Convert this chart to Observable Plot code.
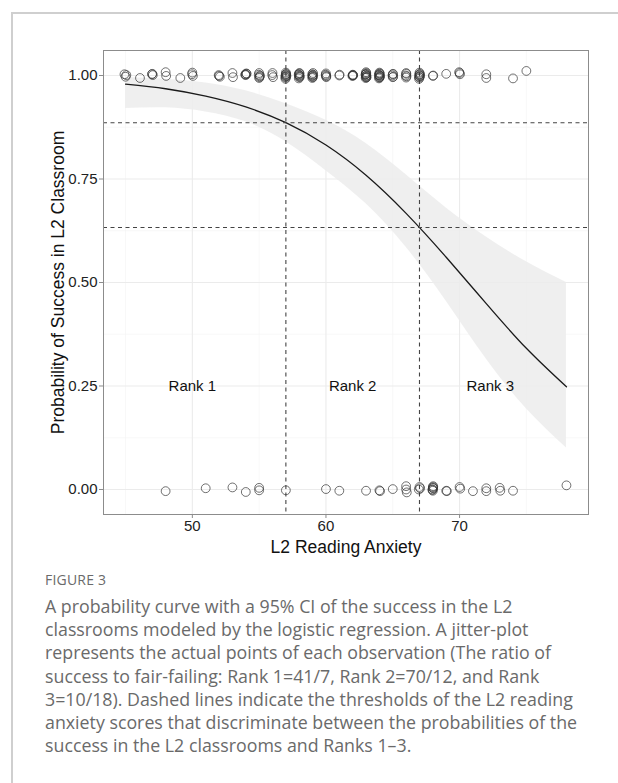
<!DOCTYPE html>
<html><head><meta charset="utf-8">
<script src="https://cdn.jsdelivr.net/npm/d3@7"></script>
<script src="https://cdn.jsdelivr.net/npm/@observablehq/plot@0.6"></script>
<style>
body{margin:0;background:#fff;}
#wrap{position:relative;width:618px;height:783px;overflow:hidden;background:#fff;}
#card{position:absolute;left:11px;top:12px;width:700px;height:900px;border-left:2px solid #cfcfcf;border-top:2px solid #cfcfcf;}
#chart{position:absolute;left:0;top:0;}
#cap{position:absolute;left:45px;top:570px;font-family:"Open Sans",sans-serif;color:#6a6a6a;white-space:nowrap;}
#cap .fig{font-size:14px;line-height:20px;margin-bottom:5px;letter-spacing:0.2px;}
#cap .txt{font-size:17.8px;line-height:23.2px;}
</style></head>
<body><div id="wrap"><div id="card"></div><div id="chart"></div>
<div id="cap"><div class="fig">FIGURE 3</div><div class="txt">A probability curve with a 95% CI of the success in the L2<br>classrooms modeled by the logistic regression. A jitter-plot<br>represents the actual points of each observation (The ratio of<br>success to fair-failing: Rank 1=41/7, Rank 2=70/12, and Rank<br>3=10/18). Dashed lines indicate the thresholds of the L2 reading<br>anxiety scores that discriminate between the probabilities of the<br>success in the L2 classrooms and Ranks 1–3.</div></div>
</div>
<script>
// observed successes (y≈1, jittered) and failures (y≈0, jittered): [anxiety, outcome]
const successPts = [
[44.92,1.003],[45.0,0.997],[45.06,1.001],
[46.08,0.994],
[46.98,1.003],[47.04,1.001],[47.0,1.004],
[48.0,1.008],[48.04,0.999],
[49.1,0.994],
[50.0,1.007],[50.04,0.999],[49.98,1.003],
[52.0,0.999],[52.06,0.997],[51.97,1.001],
[53.0,1.006],[53.04,0.996],
[53.98,1.003],[54.04,1.005],[54.0,1.001],[54.06,1.004],[53.96,1.002],
[55.0,0.994],[55.04,0.998],[54.97,1.002],[55.0,1.006],[55.06,1.0],[55.02,0.996],
[56.0,1.006],[56.04,0.996],[55.98,1.001],
[56.97,0.992],[57.0,0.995],[57.03,0.998],[56.98,1.001],[57.02,1.004],[57.0,1.007],[57.04,1.0],[56.96,0.997],[57.01,1.003],
[57.97,0.993],[58.0,0.996],[58.03,0.999],[57.98,1.002],[58.02,1.005],[58.0,1.0],[58.04,0.997],[57.96,1.003],[58.01,1.006],
[58.98,0.994],[59.02,0.997],[59.0,1.0],[58.97,1.003],[59.03,1.006],[59.0,0.996],[59.04,1.002],[58.99,0.999],
[60.0,1.005],[60.03,0.998],[59.98,1.002],[60.02,0.996],[60.0,1.0],
[61.0,1.0],[61.02,1.002],
[62.0,1.0],[62.02,1.001],[61.98,0.999],[62.01,1.002],[62.03,1.0],
[62.97,0.994],[63.0,0.997],[63.03,1.0],[62.98,1.003],[63.02,1.006],[63.0,1.008],[63.04,0.996],[62.96,1.002],[63.01,0.999],[63.0,1.004],[63.02,0.995],
[63.97,0.993],[64.0,0.996],[64.03,0.999],[63.98,1.002],[64.02,1.005],[64.0,1.007],[64.04,0.997],[63.96,1.001],[64.01,1.004],[64.0,0.995],[64.02,1.0],
[65.0,0.996],[65.02,1.004],[64.98,1.0],[65.03,0.997],[65.0,1.003],
[66.0,0.995],[66.02,1.004],[65.98,1.0],[66.03,0.998],[66.0,1.006],
[66.97,0.992],[67.0,0.995],[67.03,0.998],[66.98,1.001],[67.02,1.004],[67.0,1.007],[67.04,1.0],[66.96,0.997],[67.01,1.003],
[68.0,0.999],[68.03,1.0],
[69.0,1.004],
[70.0,1.006],[70.03,1.003],[69.97,1.008],
[72.0,1.003],[72.0,0.994],
[74.0,0.993],
[75.0,1.011]
];
const failPts = [
[48.0,-0.004],[51.0,0.003],[53.0,0.005],[54.0,-0.006],[55.0,0.004],[55.0,-0.002],[57.0,-0.002],
[60.0,0.001],[61.0,-0.003],[63.0,-0.003],[64.0,-0.002],[64.05,-0.004],[65.0,0.001],
[66.0,0.008],[66.0,0.0],[66.05,-0.007],[67.0,0.006],[67.05,0.003],[66.95,0.0],
[68.0,0.006],[68.02,0.003],[67.98,0.0],[68.0,-0.003],[68.03,0.008],[67.97,-0.001],[68.01,0.004],
[69.0,-0.003],[69.05,-0.004],[70.0,0.006],[70.05,0.002],[71.0,-0.004],
[72.0,0.003],[72.0,-0.004],[73.0,0.004],[73.05,-0.003],[74.0,-0.003],[78.0,0.01]
];
// fitted probability curve with 95% CI
const curveX = [45,48,51,54,57,60,63,66,69,72,75,78];
const curveP = [0.979,0.968,0.950,0.924,0.886,0.832,0.759,0.667,0.561,0.449,0.341,0.248];
const ciLow  = [0.920,0.922,0.912,0.888,0.840,0.770,0.690,0.585,0.455,0.315,0.195,0.100];
const ciHigh = [0.995,0.991,0.982,0.963,0.932,0.892,0.836,0.760,0.680,0.610,0.550,0.500];
const thresholdsX = [57,67];
const thresholdsY = [0.886,0.633];
const rankLabels = ["Rank 1","Rank 2","Rank 3"];
const rankX = [50,62,72.3];
const rankY = [0.25,0.25,0.25];
const xTicks = [50,60,70];
const yTicks = [0,0.25,0.5,0.75,1];
const xMinor = [45,55,65,75];
const yMinor = [0.125,0.375,0.625,0.875];

const curve = curveX.map((x,i)=>({x, p:curveP[i], lo:ciLow[i], hi:ciHigh[i]}));
const ranks = rankLabels.map((t,i)=>({t, x:rankX[i], y:rankY[i]}));
const font = "'Liberation Sans', Arial, sans-serif";

const chart = Plot.plot({
  width: 618, height: 560,
  marginLeft: 103, marginRight: 30, marginTop: 50, marginBottom: 46,
  x: {domain: [43.35, 79.65]},
  y: {domain: [-0.0604, 1.0604]},
  style: {fontFamily: font, fontSize: "15px", background: "transparent", overflow: "visible"},
  marks: [
    Plot.gridX(xMinor, {stroke: "#f3f3f3", strokeOpacity: 1, strokeWidth: 0.6}),
    Plot.gridY(yMinor, {stroke: "#f3f3f3", strokeOpacity: 1, strokeWidth: 0.6}),
    Plot.gridX(xTicks, {stroke: "#ebebeb", strokeOpacity: 1, strokeWidth: 1.1}),
    Plot.gridY(yTicks, {stroke: "#ebebeb", strokeOpacity: 1, strokeWidth: 1.1}),
    Plot.areaY(curve, {x: "x", y1: "lo", y2: "hi", fill: "#ececec", fillOpacity: 0.85, curve: "natural"}),
    Plot.line(curve, {x: "x", y: "p", stroke: "#1a1a1a", strokeWidth: 1.3, curve: "natural"}),
    Plot.ruleX(thresholdsX, {stroke: "#444", strokeWidth: 1.1, strokeDasharray: "4,3.5"}),
    Plot.ruleY(thresholdsY, {stroke: "#444", strokeWidth: 1.1, strokeDasharray: "4,3.5"}),
    Plot.text(ranks, {x: "x", y: "y", text: "t", fontSize: 15, fill: "#111"}),
    Plot.dot(successPts, {x: d => d[0], y: d => d[1], r: 4.4, stroke: "#333", strokeWidth: 0.7, fill: "none"}),
    Plot.dot(failPts, {x: d => d[0], y: d => d[1], r: 4.4, stroke: "#333", strokeWidth: 0.7, fill: "none"}),
    Plot.frame({stroke: "#8c8c8c", strokeWidth: 1}),
    Plot.axisX(xTicks, {tickSize: 4, tickPadding: 2, stroke: "#8c8c8c", fill: "#222", fontSize: 15, label: null}),
    Plot.axisY(yTicks, {tickSize: 4, tickPadding: 2, stroke: "#8c8c8c", fill: "#222", fontSize: 15, label: null, tickFormat: d3.format(".2f")}),
    Plot.text(["L2 Reading Anxiety"], {frameAnchor: "bottom", textAnchor: "middle", lineAnchor: "middle", dy: 33, fontSize: 17.5, fill: "#111"}),
    Plot.text(["Probability of Success in L2 Classroom"], {frameAnchor: "left", textAnchor: "middle", dx: -45, rotate: -90, fontSize: 17.5, fill: "#111"})
  ]
});
document.getElementById("chart").appendChild(chart);
</script>
</body></html>
